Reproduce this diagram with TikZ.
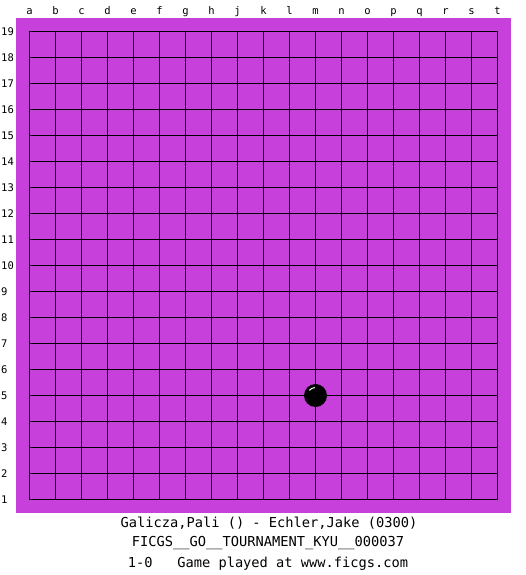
\documentclass[tikz,border=0pt]{standalone}
\usepackage{fontspec}
\setmonofont{DejaVu Sans Mono}
\definecolor{boardColor}{RGB}{200,64,220}
\tikzset{
  mylabel/.style={font=\ttfamily\fontsize{10.5}{12}\selectfont, inner sep=0pt},
  mytitle/.style={font=\ttfamily\fontsize{13.7}{16}\selectfont, inner sep=0pt},
  mygrid/.style={color=black, line width=1pt},
  mystone/.style={fill=black, circle, inner sep=0pt, outer sep=0pt, minimum size=23pt}
}

\begin{document}
\begin{tikzpicture}[x=1pt, y=-1pt]
\useasboundingbox (0,0) rectangle (525,575);
\fill[boardColor] (16,18) rectangle (511,513);

% grid
\foreach \i in {0,...,18} {
  \draw[mygrid] ({29.5+26*\i},31.5) -- ({29.5+26*\i},499.5);
  \draw[mygrid] (29.5,{31.5+26*\i}) -- (497.5,{31.5+26*\i});
}

% coordinates
\foreach \l [count=\i from 0] in {a,b,c,d,e,f,g,h,j,k,l,m,n,o,p,q,r,s,t}
  \node[mylabel, anchor=base] (col-\l) at ({29.5+26*\i},15) {\l};
\foreach \i in {1,...,19}
  \node[mylabel, anchor=west] (row-\i) at (1,{499.5-26*(\i-1)}) {\i};

% stone on m5
\node[mystone] (m5) at (315.5,395.5) {};
\draw[white, line width=1pt] ([shift={(-95:8)}]m5.center) arc[start angle=-95, end angle=-140, radius=8];

% game info
\node[mytitle] (players) at (269,523.5) {Galicza,Pali () - Echler,Jake (0300)};
\node[mytitle] (event) at (268,543.5) {FICGS\_\_GO\_\_TOURNAMENT\_KYU\_\_000037};
\node[mytitle] (result) at (268,563.5) {1-0\ \ \ Game played at www.ficgs.com};
\end{tikzpicture}
\end{document}
